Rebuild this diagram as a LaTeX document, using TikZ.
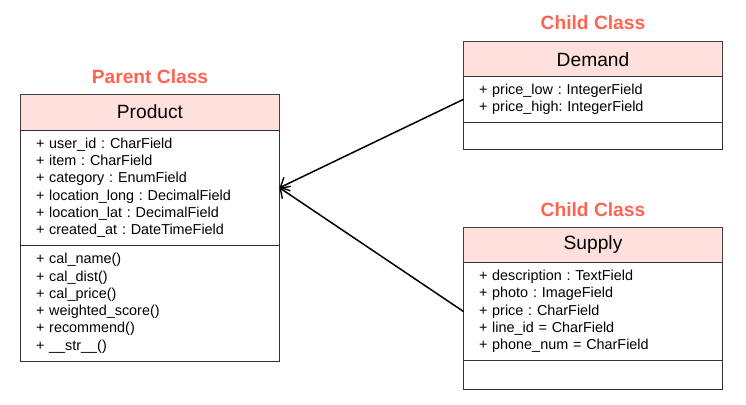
\documentclass[tikz,border=0pt]{standalone}
\usepackage{fontspec}
\setmainfont{Liberation Sans}
\frenchspacing
\usetikzlibrary{positioning,arrows.meta}
\definecolor{headpink}{HTML}{FFE0DD}
\definecolor{titlered}{HTML}{FF6352}
\tikzset{
  classtitle/.style={font=\fontsize{19.2}{23}\selectfont\bfseries, text=titlered},
  umlhead/.style={draw=black!75, line width=0.9pt, fill=headpink, outer sep=0pt, inner sep=0pt,
    minimum width=259pt, font=\fontsize{19.2}{23}\selectfont},
  umlpart/.style={draw=black!80, line width=0.9pt, outer sep=0pt, inner xsep=15.5pt, inner ysep=0pt,
    text width=228pt, align=left, font=\fontsize{14.4}{17.3}\selectfont},
  inherit/.style={line width=1.5pt, -{Straight Barb[length=7.5pt,width=15pt,line width=1.4pt]}}
}
\begin{document}
\begin{tikzpicture}[x=1pt,y=-1pt]
  \useasboundingbox (0,0) rectangle (746,404);

  % parent class
  \node[classtitle] (parentlbl) at (150,77) {Parent Class};
  \node[umlhead, minimum height=36pt, anchor=north west] (product) at (20.5,94) {Product};
  \node[umlpart, minimum height=115.5pt, below=0pt of product] (productattr)
    {+ user\_id : CharField\\ + item : CharField\\ + category : EnumField\\
     + location\_long : DecimalField\\ + location\_lat : DecimalField\\ + created\_at : DateTimeField};
  \node[umlpart, minimum height=115.5pt, below=0pt of productattr] (productops)
    {+ cal\_name()\\ + cal\_dist()\\ + cal\_price()\\ + weighted\_score()\\ + recommend()\\ + \_\_str\_\_()};

  % child classes
  \node[classtitle] (demandlbl) at (593,23) {Child Class};
  \node[umlhead, minimum height=35pt, anchor=north west] (demand) at (463.5,41.7) {Demand};
  \node[umlpart, minimum height=45.3pt, below=0pt of demand] (demandattr)
    {+ price\_low : IntegerField\\ + price\_high: IntegerField};
  \node[umlpart, minimum height=27.3pt, below=0pt of demandattr] (demandops) {};

  \node[classtitle] (supplylbl) at (593,210) {Child Class};
  \node[umlhead, minimum height=34.6pt, anchor=north west] (supply) at (463.5,227.7) {Supply};
  \node[umlpart, minimum height=98.4pt, below=0pt of supply] (supplyattr)
    {+ description : TextField\\ + photo : ImageField\\ + price : CharField\\
     + line\_id = CharField\\ + phone\_num = CharField};
  \node[umlpart, minimum height=28.3pt, below=0pt of supplyattr] (supplyops) {};

  % inheritance
  \draw[inherit] (demandattr.west) -- (productattr.east);
  \draw[inherit] (supplyattr.west) -- (productattr.east);
\end{tikzpicture}
\end{document}
